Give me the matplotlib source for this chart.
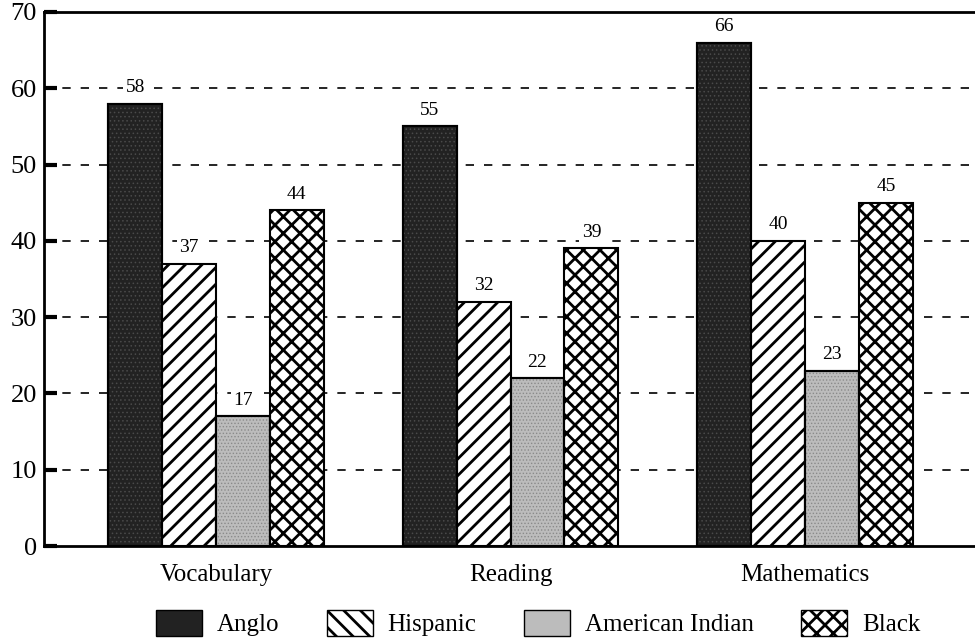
import numpy as np
import matplotlib.pyplot as plt
from matplotlib.patches import Patch

# chart values
categories = ['Vocabulary', 'Reading', 'Mathematics']
groups     = ['Anglo', 'Hispanic', 'American Indian', 'Black']
anglo      = [58, 55, 66]
hispanic   = [37, 32, 40]
am_indian  = [17, 22, 23]
black      = [44, 39, 45]
y_ticks    = [0, 10, 20, 30, 40, 50, 60, 70]

plt.rcParams['font.family'] = ['Liberation Serif', 'DejaVu Serif']
plt.rcParams['hatch.linewidth'] = 2.0

fig = plt.figure(figsize=(9.75, 6.38), dpi=100)
ax = fig.add_axes([0.0451, 0.1442, 0.9549, 0.837])

x = np.arange(len(categories))
width = 0.183
styles = [
    dict(facecolor='#222222', hatch=None),
    dict(facecolor='white', hatch='//'),
    dict(facecolor='#bcbcbc', hatch=None),
    dict(facecolor='white', hatch='xx'),
]
# faint dotted texture on the two grey fills
texture = {0: ('#4a4a4a', '....'), 2: ('#8a8a8a', '.....')}
series = [anglo, hispanic, am_indian, black]

for i, (vals, st) in enumerate(zip(series, styles)):
    pos = x + (i - 1.5) * width
    bars = ax.bar(pos, vals, width, color=st['facecolor'], hatch=st['hatch'],
                  edgecolor='black', linewidth=1.5, zorder=3)
    if i in texture:
        with plt.rc_context({'hatch.linewidth': 0.6}):
            ax.bar(pos, vals, width, color='none', hatch=texture[i][1],
                   edgecolor=texture[i][0], linewidth=0, zorder=3.5)
            ax.bar(pos, vals, width, color='none', edgecolor='black',
                   linewidth=1.5, zorder=3.6)
    for b, v in zip(bars, vals):
        ax.text(b.get_x() + b.get_width() / 2, v + 1.0, str(v),
                ha='center', va='bottom', fontsize=14, zorder=4,
                bbox=dict(facecolor='white', edgecolor='none', pad=1.5))

ax.set_xlim(-0.584, 2.577)
ax.set_ylim(0, 70)
ax.set_yticks(y_ticks)
ax.set_yticklabels([str(t) for t in y_ticks], fontsize=19)
ax.set_xticks(x)
ax.set_xticklabels(categories, fontsize=18)
ax.tick_params(axis='x', length=0, pad=13)
ax.tick_params(axis='y', direction='in', length=9, width=3, pad=5)

for t in y_ticks[1:-1]:
    ax.axhline(t, color='black', linestyle=(0, (5, 6)), linewidth=1.2, zorder=1)

for side in ['left', 'bottom', 'top']:
    ax.spines[side].set_linewidth(2)
ax.spines['right'].set_visible(False)

handles = [
    Patch(facecolor='#222222', edgecolor='black', label='Anglo'),
    Patch(facecolor='white', edgecolor='black', hatch='\\\\', label='Hispanic'),
    Patch(facecolor='#bcbcbc', edgecolor='black', label='American Indian'),
    Patch(facecolor='white', edgecolor='black', hatch='xx', label='Black'),
]
fig.legend(handles=handles, loc='center', bbox_to_anchor=(0.552, 0.0235),
           ncol=4, frameon=False, fontsize=18, handlelength=1.84,
           handleheight=1.2, columnspacing=1.9, handletextpad=0.6,
           borderpad=0.1)

fig.savefig('out.png', dpi=100)
